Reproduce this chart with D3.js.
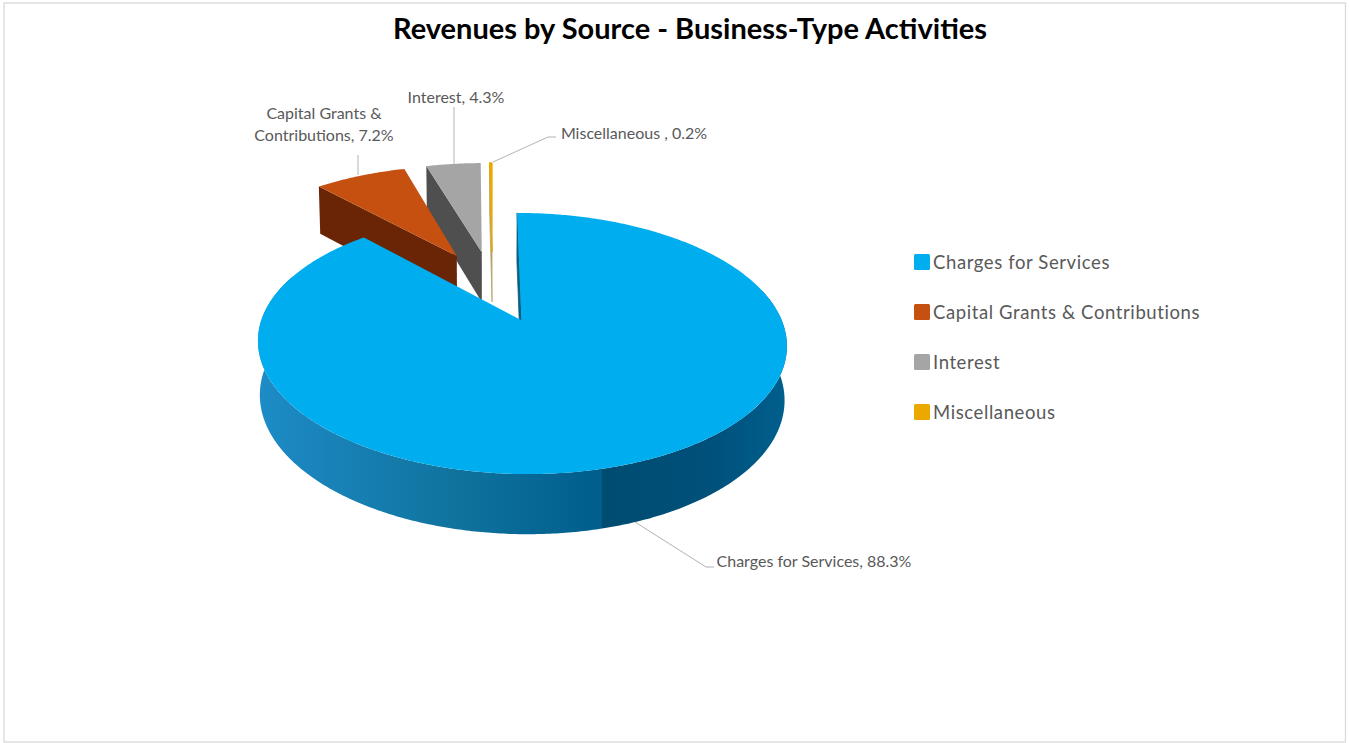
<!DOCTYPE html>
<html>
<head>
<meta charset="utf-8">
<title>Revenues by Source - Business-Type Activities</title>
<script src="https://cdn.jsdelivr.net/npm/d3@7"></script>
<style>
  html, body { margin: 0; padding: 0; background: #fff; }
  svg { display: block; }
  text { font-family: Lato, "Open Sans", sans-serif; }
</style>
</head>
<body>
<svg id="chart" width="1349" height="743"></svg>
<script>
// Revenue shares, in percent
const categories = ["Charges for Services", "Capital Grants & Contributions", "Interest", "Miscellaneous"];
const shares = [88.3, 7.2, 4.3, 0.2];
const topColors = ["#00aeef", "#c5500f", "#a5a5a5", "#eba900"];
const faceColors = ["#00506f", "#6a2406", "#4f4f4f", "#b9a56a"];
const chartTitle = "Revenues by Source - Business-Type Activities";

const svg = d3.select("#chart");
const W = 1349, H = 743;

// Chart frame
svg.append("rect").attr("x", 4).attr("y", 3).attr("width", W - 7.5).attr("height", H - 4)
  .attr("fill", "#fff").attr("stroke", "#d9d9d9").attr("stroke-width", 1.3);

svg.append("text").attr("x", 690).attr("y", 39).attr("text-anchor", "middle")
  .attr("font-size", 29).attr("font-weight", 700).attr("fill", "#000").text(chartTitle);

// Perspective view of the pie's disc: unit-radius coordinates to the page
const cam = { cx: 492.5, cy: 285.5, A: 247.5, B: 114.4, p: 0.169, explode: 0.31 };
const scaleAt = v => 1 / (1 + cam.p * v);
const depthAt = s => 21 + 30.6 * s;

function project(u, v, lower) {
  const s = scaleAt(v);
  const x = cam.A * u * s, y = -cam.B * v * s;
  return lower
    ? [cam.cx + x * 0.992, cam.cy + y + depthAt(s)]
    : [cam.cx + x, cam.cy + y];
}

const slices = d3.pie().sort(null).startAngle(0).endAngle(2 * Math.PI)(shares);
const line = d3.line();

function offsetOf(d) {
  const mid = (d.startAngle + d.endAngle) / 2;
  return [cam.explode * Math.sin(mid), cam.explode * Math.cos(mid)];
}
const rimPoint = (d, a, lower) => {
  const [ou, ov] = offsetOf(d);
  return project(ou + Math.sin(a), ov + Math.cos(a), lower);
};
const apexPoint = (d, lower) => {
  const [ou, ov] = offsetOf(d);
  return project(ou, ov, lower);
};
function rimAngles(a0, a1) {
  const n = Math.max(2, Math.ceil((a1 - a0) / 0.01));
  return d3.range(n + 1).map(i => a0 + (a1 - a0) * i / n);
}
const topPath = d => line([apexPoint(d), ...rimAngles(d.startAngle, d.endAngle).map(a => rimPoint(d, a))]) + "Z";
const cutPath = (d, a) => line([apexPoint(d), rimPoint(d, a), rimPoint(d, a, true), apexPoint(d, true)]) + "Z";

// Wall shading along the front of the large slice
const wall = svg.append("defs").append("linearGradient").attr("id", "wall")
  .attr("gradientUnits", "userSpaceOnUse").attr("x1", 258).attr("x2", 787).attr("y1", 0).attr("y2", 0);
[[0, "#1d8cc6"], [0.09, "#1a85bd"], [0.36, "#10749f"], [0.65, "#005d8c"],
 [0.65, "#004c70"], [0.85, "#00507a"], [1, "#005f8d"]]
  .forEach(([o, c]) => wall.append("stop").attr("offset", o).attr("stop-color", c));

// Detached slices are painted back to front, the large slice last
const marks = svg.append("g");
[3, 2, 1].forEach(i => {
  const d = slices[i];
  marks.append("path").attr("d", cutPath(d, d.startAngle)).attr("fill", faceColors[i]);
  marks.append("path").attr("d", topPath(d)).attr("fill", topColors[i]);
});
marks.select("path:nth-child(1)").attr("stroke", faceColors[3]).attr("stroke-width", 0.8);
marks.select("path:nth-child(2)").attr("stroke", topColors[3]).attr("stroke-width", 1);

const main = slices[0];
const wallArc = rimAngles(Math.PI * 0.42, Math.PI * 1.62);
marks.append("path")
  .attr("d", line([...wallArc.map(a => rimPoint(main, a)), ...wallArc.slice().reverse().map(a => rimPoint(main, a, true))]) + "Z")
  .attr("fill", "url(#wall)");
marks.append("path").attr("d", cutPath(main, main.startAngle))
  .attr("fill", "#0a5f85").attr("stroke", "#0a5f85").attr("stroke-width", 0.8);
marks.append("path").attr("d", topPath(main)).attr("fill", topColors[0]);

// Leader lines, in the order of the categories
const leaders = [
  [[635, 522], [706, 567], [714, 567]],
  [[358, 155], [358, 175]],
  [[454, 107], [454, 164]],
  [[493, 162], [548, 137], [556, 137]]
];
svg.append("g").selectAll("path").data(leaders).join("path")
  .attr("d", d => line(d)).attr("fill", "none").attr("stroke", "#b3b3b3").attr("stroke-width", 1);

// Data labels
const labelLines = [
  [`${categories[0]}, ${shares[0]}%`],
  ["Capital Grants &", `Contributions, ${shares[1]}%`],
  [`${categories[2]}, ${shares[2]}%`],
  [`${categories[3]} , ${shares[3]}%`]
];
const labelAnchors = [[814, 567], [324, 119], [456, 103], [634, 139]];
const labels = svg.append("g").attr("font-size", 16).attr("fill", "#595959").attr("text-anchor", "middle");
labelLines.forEach((rows, i) => {
  rows.forEach((row, j) => {
    labels.append("text").attr("x", labelAnchors[i][0]).attr("y", labelAnchors[i][1] + j * 22).text(row);
  });
});

// Legend
const legendY = d3.scalePoint().domain(categories).range([262, 412]);
const legend = svg.append("g").selectAll("g").data(categories).join("g")
  .attr("transform", d => `translate(914,${legendY(d)})`);
legend.append("rect").attr("x", 0).attr("y", -8).attr("width", 16).attr("height", 16).attr("rx", 1.5)
  .attr("fill", (d, i) => topColors[i]);
legend.append("text").attr("x", 19).attr("y", 6.5).attr("font-size", 18.5)
  .attr("letter-spacing", 0.6).attr("fill", "#595959").text(d => d);
</script>
</body>
</html>
